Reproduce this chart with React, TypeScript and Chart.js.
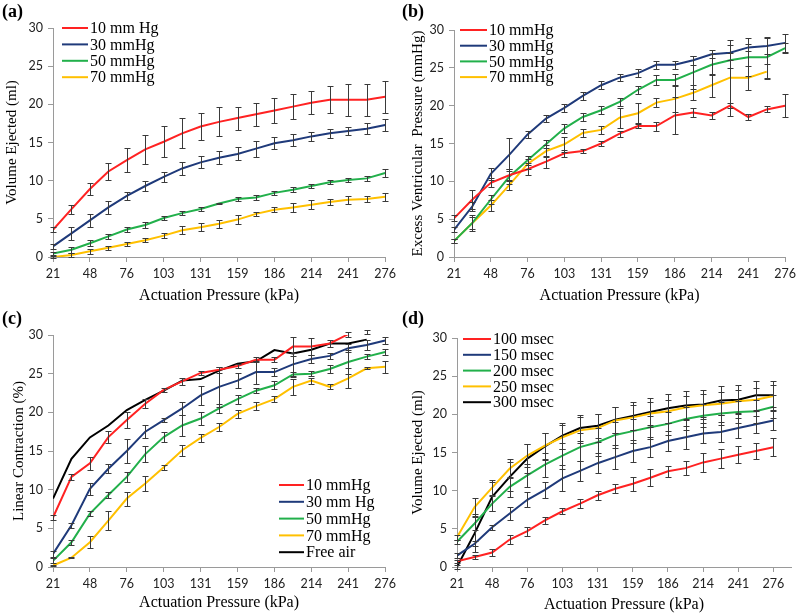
import React, { useEffect, useRef } from "react";
import { Chart, registerables } from "chart.js";
Chart.register(...registerables);

// ---------- data ----------
const pressureLabels = [21, 34, 48, 62, 76, 90, 103, 117, 131, 145, 159, 172, 186, 200, 214, 228, 241, 255, 276];
const tickIndices = [0, 2, 4, 6, 8, 10, 12, 14, 16, 18];
const yTicks = [0, 5, 10, 15, 20, 25, 30];

// (a) Volume ejected vs load
const aLabels = ["10 mm Hg", "30 mmHg", "50 mmHg", "70 mmHg"];
const a10 = [3.57, 6.27, 8.9, 11.2, 12.7, 14.1, 15.1, 16.2, 17.1, 17.7, 18.2, 18.7, 19.2, 19.7, 20.2, 20.6, 20.6, 20.6, 21.0];
const a10e = [0.3, 0.6, 0.75, 1.1, 1.6, 1.9, 2.0, 1.95, 1.8, 1.9, 1.5, 1.5, 1.6, 1.6, 1.5, 1.75, 2.1, 2.1, 2.1];
const a30 = [1.4, 3.1, 4.8, 6.5, 8.0, 9.3, 10.5, 11.6, 12.4, 13.0, 13.5, 14.2, 14.9, 15.3, 15.8, 16.2, 16.5, 16.8, 17.3];
const a30e = [0.3, 0.85, 0.85, 0.85, 0.5, 0.6, 0.65, 0.85, 0.8, 0.85, 0.85, 1.05, 0.8, 0.8, 0.6, 0.6, 0.5, 0.75, 0.75];
const a50 = [0.45, 0.95, 1.8, 2.7, 3.6, 4.2, 5.1, 5.75, 6.3, 7.0, 7.6, 7.8, 8.4, 8.8, 9.3, 9.8, 10.1, 10.3, 11.0];
const a50e = [0.2, 0.4, 0.4, 0.35, 0.3, 0.35, 0.3, 0.3, 0.3, 0.1, 0.3, 0.3, 0.3, 0.35, 0.3, 0.3, 0.3, 0.3, 0.5];
const a70 = [0.0, 0.25, 0.75, 1.2, 1.7, 2.2, 2.8, 3.5, 3.9, 4.35, 4.9, 5.65, 6.2, 6.5, 6.85, 7.2, 7.5, 7.6, 7.9];
const a70e = [0.1, 0.3, 0.3, 0.3, 0.3, 0.3, 0.3, 0.5, 0.5, 0.5, 0.55, 0.3, 0.3, 0.6, 0.6, 0.35, 0.5, 0.35, 0.5];

// (b) Excess ventricular pressure
const bLabels = ["10 mmHg", "30 mmHg", "50 mmHg", "70 mmHg"];
const b10 = [5.1, 7.6, 9.8, 10.8, 11.6, 12.6, 13.7, 14.0, 15.0, 16.3, 17.3, 17.3, 18.7, 19.1, 18.7, 20.0, 18.5, 19.5, 20.0];
const b10e = [0.4, 1.2, 0.6, 0.8, 0.8, 0.8, 0.5, 0.3, 0.3, 0.4, 0.3, 0.6, 2.4, 0.6, 0.4, 0.3, 0.4, 0.4, 1.5];
const b30 = [3.6, 6.7, 11.0, 13.5, 16.2, 18.3, 19.7, 21.3, 22.7, 23.7, 24.3, 25.4, 25.4, 26.0, 26.8, 27.0, 27.7, 27.9, 28.3];
const b30e = [0.3, 0.6, 0.8, 2.2, 0.5, 0.5, 0.5, 0.5, 0.5, 0.5, 0.5, 0.5, 0.5, 0.6, 0.5, 1.0, 0.5, 1.1, 1.2];
const b50 = [2.1, 4.5, 7.6, 10.6, 12.8, 14.9, 17.0, 18.5, 19.4, 20.5, 22.1, 23.4, 23.4, 24.4, 25.4, 26.0, 26.4, 26.4, 27.6];
const b50e = [0.3, 0.8, 0.6, 1.0, 0.6, 0.5, 0.6, 0.5, 0.5, 0.5, 0.5, 0.7, 0.8, 2.2, 1.4, 1.0, 2.5, 2.7, 0.7];
const b70 = [2.1, 4.5, 6.8, 9.5, 12.3, 14.0, 14.9, 16.4, 16.8, 18.4, 19.0, 20.4, 20.9, 21.7, 22.7, 23.7, 23.7, 24.5, null];
const b70e = [0.3, 1.0, 0.7, 0.7, 0.7, 0.8, 1.0, 0.5, 0.5, 1.3, 1.3, 0.6, 1.8, 1.0, 1.5, 5.0, 1.6, 1.0, null];

// (c) Linear contraction
const cLabels = ["10 mmHg", "30 mm Hg", "50 mmHg", "70 mmHg", "Free air"];
const c10 = [6.4, 11.65, 13.4, 16.8, 19.0, 21.1, 22.9, 24.0, 25.1, 25.5, 26.0, 26.8, 26.8, 28.5, 28.5, 28.9, 30.1, 30.4, null];
const c10e = [0.3, 0.4, 0.8, 0.8, 1.0, 0.6, 0.3, 0.5, 0.3, 0.4, 0.3, 0.3, 0.3, 1.2, 1.1, 0.5, 0.3, 0.3, null];
const c30 = [1.7, 5.4, 10.1, 12.7, 15.0, 17.5, 19.0, 20.5, 22.2, 23.3, 24.1, 25.2, 25.2, 26.2, 26.9, 27.3, 28.3, 28.7, 29.3];
const c30e = [0.4, 0.3, 0.8, 0.6, 1.5, 0.8, 0.3, 0.8, 1.2, 2.6, 1.0, 1.5, 0.5, 1.5, 0.5, 0.4, 0.5, 0.6, 0.4];
const c50 = [0.8, 3.2, 6.9, 9.3, 11.65, 14.6, 16.8, 18.3, 19.2, 20.5, 21.7, 22.8, 23.5, 24.9, 25.0, 25.6, 26.5, 27.2, 27.8];
const c50e = [0.3, 0.3, 0.3, 0.4, 0.6, 1.0, 0.6, 1.3, 0.8, 0.6, 0.6, 0.3, 0.5, 0.3, 0.3, 0.5, 1.5, 0.3, 0.4];
const c70 = [0.2, 1.2, 3.2, 6.0, 8.85, 10.8, 12.9, 15.1, 16.7, 18.1, 19.8, 20.8, 21.7, 23.3, 24.1, 23.3, 24.4, 25.7, 25.9];
const c70e = [0.1, 0.1, 0.8, 1.2, 0.9, 1.0, 0.3, 0.7, 0.5, 0.5, 0.5, 0.5, 0.4, 1.0, 0.4, 0.3, 1.3, 0.1, 0.8];
const cAir = [8.85, 14.0, 16.75, 18.3, 20.3, 21.6, 22.8, 24.1, 24.3, 25.4, 26.3, 26.6, 28.05, 27.6, 28.1, 28.9, 28.9, 29.4, null];

// (d) Volume ejected vs pulse duration
const dLabels = ["100 msec", "150 msec", "200 msec", "250 msec", "300 msec"];
const d100 = [0.75, 1.3, 1.9, 3.6, 4.7, 6.1, 7.3, 8.3, 9.4, 10.25, 10.9, 11.7, 12.55, 12.95, 13.7, 14.2, 14.7, 15.2, 15.7];
const d100e = [0.2, 0.3, 0.5, 0.6, 0.6, 0.5, 0.4, 0.6, 0.6, 0.6, 0.9, 1.1, 0.7, 0.9, 1.2, 1.2, 1.1, 1.1, 1.2];
const d150 = [1.5, 3.05, 5.2, 7.0, 8.8, 10.1, 11.6, 12.6, 13.6, 14.4, 15.2, 15.7, 16.5, 17.0, 17.5, 17.7, 18.2, 18.7, 19.2];
const d150e = [0.3, 0.3, 0.3, 0.8, 1.0, 1.0, 1.7, 1.3, 1.3, 1.6, 1.5, 1.3, 1.3, 1.5, 1.3, 1.3, 1.3, 1.1, 1.2];
const d200 = [3.3, 5.7, 8.3, 10.5, 12.0, 13.4, 14.6, 15.7, 16.35, 17.3, 17.8, 18.3, 18.75, 19.4, 19.8, 20.1, 20.3, 20.4, 21.0];
const d200e = [0.3, 0.9, 1.0, 1.3, 1.5, 1.6, 1.7, 1.8, 1.8, 1.7, 1.6, 1.5, 1.5, 1.5, 1.5, 1.5, 1.5, 1.5, 1.5];
const d250 = [3.9, 7.85, 10.4, 12.9, 14.6, 15.9, 17.0, 17.9, 18.2, 19.2, 19.6, 20.1, 20.4, 20.9, 21.2, 21.4, 21.7, 21.9, 22.4];
const d250e = [0.3, 1.2, 1.0, 1.2, 1.5, 1.7, 1.6, 1.7, 1.8, 1.7, 1.6, 1.5, 1.5, 1.5, 1.5, 1.5, 1.5, 1.5, 1.5];
const d300 = [0.0, 4.4, 9.2, 11.8, 14.2, 15.8, 17.2, 18.2, 18.5, 19.3, 19.8, 20.3, 20.8, 21.15, 21.3, 21.8, 21.9, 22.5, 22.5];
const d300e = [0.2, 2.5, 1.9, 1.9, 1.9, 1.8, 1.7, 1.7, 1.6, 1.7, 1.8, 1.9, 1.9, 1.9, 1.9, 1.9, 1.9, 1.9, 1.9];

// ---------- styles ----------
const RED = "#ff2222";
const BLUE = "#1f3a7a";
const GREEN = "#22b04b";
const YELLOW = "#ffc000";
const BLACK = "#000000";
const SERIF = "'Liberation Serif', 'Times New Roman', serif";
const SANS = "Lato, 'Open Sans', sans-serif";

const errorBarPlugin = {
  id: "errorBars",
  afterDatasetsDraw(chart: any) {
    const { ctx } = chart;
    const xs = chart.scales.x;
    const ys = chart.scales.y;
    ctx.save();
    ctx.strokeStyle = "#3a3a3a";
    ctx.lineWidth = 1;
    chart.data.datasets.forEach((ds: any) => {
      const errs = ds.errors;
      if (!errs) return;
      ds.data.forEach((pt: any, i: number) => {
        const e = errs[i];
        if (pt.y == null || e == null) return;
        const px = Math.round(xs.getPixelForValue(pt.x)) + 0.5;
        const yt = Math.round(ys.getPixelForValue(pt.y + e)) + 0.5;
        const yb = Math.round(ys.getPixelForValue(pt.y - e)) + 0.5;
        ctx.beginPath();
        ctx.moveTo(px, yt);
        ctx.lineTo(px, yb);
        ctx.moveTo(px - 3, yt);
        ctx.lineTo(px + 3, yt);
        ctx.moveTo(px - 3, yb);
        ctx.lineTo(px + 3, yb);
        ctx.stroke();
      });
    });
    ctx.restore();
  },
};

const inlineLegendPlugin = {
  id: "inlineLegend",
  afterDraw(chart: any, _args: any, opts: any) {
    if (!opts || opts.x == null) return;
    const { ctx } = chart;
    ctx.save();
    ctx.font = opts.fontSpec;
    ctx.textBaseline = "middle";
    ctx.textAlign = "left";
    ctx.fillStyle = "#000";
    chart.data.datasets.forEach((ds: any, i: number) => {
      const yy = opts.y + i * opts.spacing;
      ctx.strokeStyle = ds.borderColor;
      ctx.lineWidth = 2;
      ctx.beginPath();
      ctx.moveTo(opts.x, yy);
      ctx.lineTo(opts.x + opts.lineLen, yy);
      ctx.stroke();
      ctx.fillText(ds.label, opts.x + opts.lineLen + 2, yy + 1);
    });
    ctx.restore();
  },
};

function series(label: string, values: (number | null)[], errors: (number | null)[] | null, color: string) {
  return {
    label,
    data: values.map((v, i) => ({ x: i, y: v })),
    errors,
    borderColor: color,
    backgroundColor: color,
    borderWidth: 2,
    pointRadius: 0,
    tension: 0,
    spanGaps: false,
  };
}

type PanelSpec = {
  datasets: any[];
  yTitle: string;
  xMax: number;
  yAxisWidth: number;
  xAxisHeight: number;
  padTop: number;
  padRight: number;
  yTitlePad: number;
  xTitlePad: number;
  legend: { x: number; y: number; spacing: number; lineLen: number };
};

function makeConfig(p: PanelSpec): any {
  return {
    type: "line",
    data: { datasets: p.datasets },
    plugins: [errorBarPlugin, inlineLegendPlugin],
    options: {
      animation: false,
      responsive: false,
      layout: { padding: { left: 0, right: p.padRight, top: p.padTop, bottom: 0 } },
      plugins: {
        legend: { display: false },
        tooltip: { enabled: false },
        inlineLegend: { ...p.legend, fontSpec: `16px ${SERIF}` },
      },
      scales: {
        x: {
          type: "linear",
          min: 0,
          max: p.xMax,
          afterBuildTicks: (s: any) => {
            s.ticks = tickIndices.map((v) => ({ value: v }));
          },
          afterFit: (s: any) => {
            s.height = p.xAxisHeight;
          },
          ticks: {
            autoSkip: false,
            maxRotation: 0,
            padding: 4,
            color: "#222",
            font: { family: SANS, size: 12.5 },
            callback: (v: number) => String(pressureLabels[v] ?? ""),
          },
          grid: { drawOnChartArea: false, drawTicks: true, tickLength: 5, color: "#9a9a9a" },
          border: { display: true, color: "#9a9a9a", width: 1 },
          title: {
            display: true,
            text: "Actuation Pressure (kPa)",
            color: "#000",
            font: { family: SERIF, size: 16 },
            padding: { top: 0, bottom: p.xTitlePad },
          },
        },
        y: {
          type: "linear",
          min: 0,
          max: 30,
          afterBuildTicks: (s: any) => {
            s.ticks = yTicks.map((v) => ({ value: v }));
          },
          afterFit: (s: any) => {
            s.width = p.yAxisWidth;
          },
          ticks: {
            padding: 5,
            color: "#222",
            font: { family: SANS, size: 12.5 },
          },
          grid: { drawOnChartArea: false, drawTicks: true, tickLength: 5, color: "#9a9a9a" },
          border: { display: true, color: "#9a9a9a", width: 1 },
          title: {
            display: true,
            text: p.yTitle,
            color: "#000",
            font: { family: SERIF, size: 15 },
            padding: { top: p.yTitlePad, bottom: 0 },
          },
        },
      },
    },
  };
}

function Panel({ left, top, width, height, spec, tag }: { left: number; top: number; width: number; height: number; spec: PanelSpec; tag: string }) {
  const ref = useRef<HTMLCanvasElement | null>(null);
  useEffect(() => {
    if (!ref.current) return;
    const chart = new Chart(ref.current, makeConfig(spec));
    return () => chart.destroy();
  }, []);
  return (
    <div style={{ position: "absolute", left, top, width, height }}>
      <canvas ref={ref} width={width} height={height} style={{ position: "absolute", left: 0, top: 0, width, height }} />
      <div
        style={{
          position: "absolute",
          left: 2,
          top: 0,
          fontFamily: SERIF,
          fontWeight: "bold",
          fontSize: 18,
          lineHeight: "22px",
          color: "#000",
        }}
      >
        {tag}
      </div>
    </div>
  );
}

const specA: PanelSpec = {
  datasets: [
    series(aLabels[0], a10, a10e, RED),
    series(aLabels[1], a30, a30e, BLUE),
    series(aLabels[2], a50, a50e, GREEN),
    series(aLabels[3], a70, a70e, YELLOW),
  ],
  yTitle: "Volume Ejected (ml)",
  xMax: 18,
  yAxisWidth: 53,
  xAxisHeight: 50,
  padTop: 28,
  padRight: 12,
  yTitlePad: 3,
  xTitlePad: 2,
  legend: { x: 62, y: 28, spacing: 16.4, lineLen: 26 },
};

const specB: PanelSpec = {
  datasets: [
    series(bLabels[0], b10, b10e, RED),
    series(bLabels[1], b30, b30e, BLUE),
    series(bLabels[2], b50, b50e, GREEN),
    series(bLabels[3], b70, b70e, YELLOW),
  ],
  yTitle: "Excess Ventricular  Pressure (mmHg)",
  xMax: 18,
  yAxisWidth: 54,
  xAxisHeight: 50,
  padTop: 30,
  padRight: 12,
  yTitlePad: 9,
  xTitlePad: 2,
  legend: { x: 60, y: 30, spacing: 15.7, lineLen: 27 },
};

const specC: PanelSpec = {
  datasets: [
    series(cLabels[0], c10, c10e, RED),
    series(cLabels[1], c30, c30e, BLUE),
    series(cLabels[2], c50, c50e, GREEN),
    series(cLabels[3], c70, c70e, YELLOW),
    series(cLabels[4], cAir, null, BLACK),
  ],
  yTitle: "Linear Contraction (%)",
  xMax: 18,
  yAxisWidth: 53,
  xAxisHeight: 48,
  padTop: 28,
  padRight: 13,
  yTitlePad: 10,
  xTitlePad: 3,
  legend: { x: 279, y: 178, spacing: 16.8, lineLen: 25 },
};

const specD: PanelSpec = {
  datasets: [
    series(dLabels[0], d100, d100e, RED),
    series(dLabels[1], d150, d150e, BLUE),
    series(dLabels[2], d200, d200e, GREEN),
    series(dLabels[3], d250, d250e, YELLOW),
    series(dLabels[4], d300, d300e, BLACK),
  ],
  yTitle: "Volume Ejected (ml)",
  xMax: 19,
  yAxisWidth: 57,
  xAxisHeight: 48,
  padTop: 31,
  padRight: 9,
  yTitlePad: 9,
  xTitlePad: 1,
  legend: { x: 63, y: 32, spacing: 15.8, lineLen: 28 },
};

export default function App() {
  return (
    <div style={{ position: "absolute", left: 0, top: 0, width: 800, height: 615, background: "#fff", overflow: "hidden" }}>
      <Panel left={0} top={0} width={400} height={307} spec={specA} tag="(a)" />
      <Panel left={400} top={0} width={400} height={307} spec={specB} tag="(b)" />
      <Panel left={0} top={307} width={400} height={308} spec={specC} tag="(c)" />
      <Panel left={400} top={307} width={400} height={308} spec={specD} tag="(d)" />
    </div>
  );
}
